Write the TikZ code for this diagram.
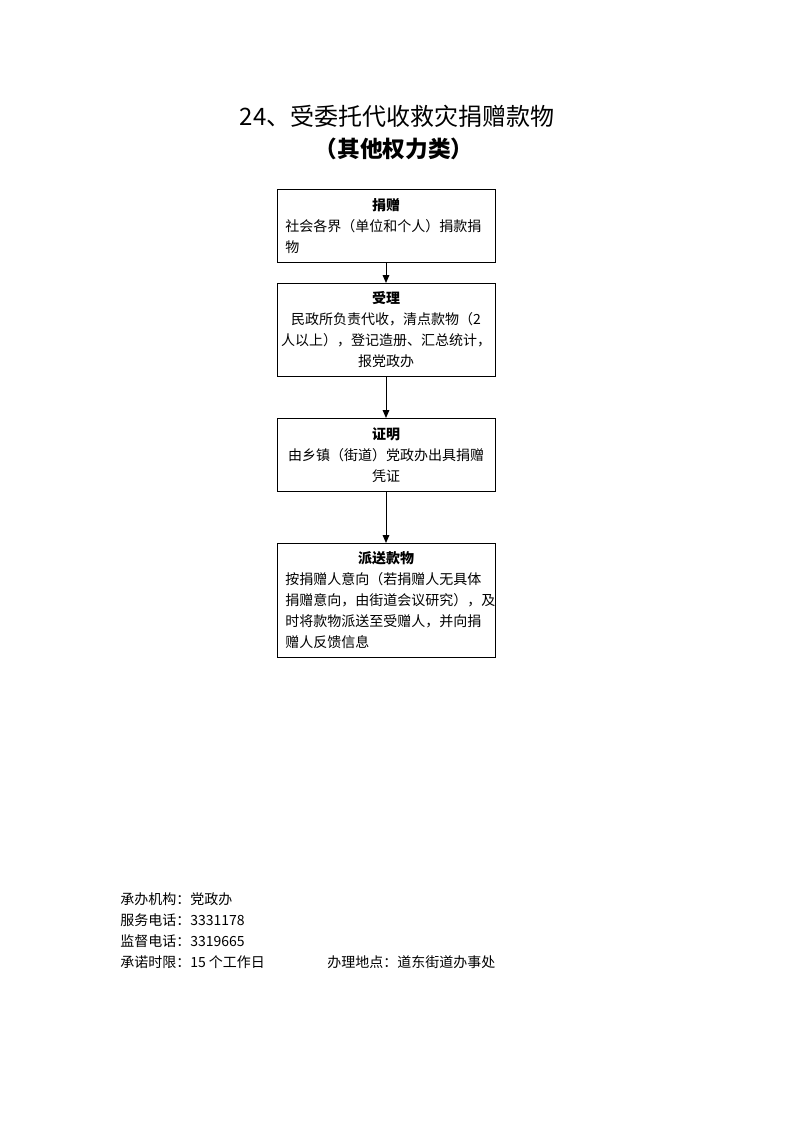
\documentclass[tikz,border=0pt]{standalone}
\usepackage{fontspec}
\setmainfont{Noto Sans CJK SC}
\usetikzlibrary{arrows.meta}
\tikzset{
    flowbox/.style={draw, line width=0.75pt, minimum width=163.5pt, text width=151pt, inner xsep=6.25pt, inner ysep=2pt, font=\fontsize{10.5}{15.75}\selectfont, anchor=north},
    flowarrow/.style={line width=0.75pt, -{Triangle[length=6pt,width=5pt]}},
    footnote/.style={anchor=west, inner sep=0pt, font=\fontsize{10.5}{15.75}\selectfont}
}
\begin{document}
\begin{tikzpicture}[x=0.75pt, y=-0.75pt]
        \useasboundingbox (0, 0) rectangle (793, 1122);
        \node[font=\fontsize{18}{22}\selectfont] (title) at (397, 116) {24、受委托代收救灾捐赠款物};
        \node[font=\fontsize{17}{20}\selectfont\bfseries] (subtitle) at (394, 149) {（其他权力类）};

        \node[flowbox, minimum height=54.75pt, align=left] (juanzeng) at (386, 189)
            {\makebox[151pt]{\textbf{捐赠}}\\社会各界（单位和个人）捐款捐\\物};
        \node[flowbox, minimum height=69.75pt, align=center] (shouli) at (386, 283)
            {\textbf{受理}\\民政所负责代收，清点款物（2\\\makebox[151pt]{人以上），登记造册、汇总统计，}\\报党政办};
        \node[flowbox, minimum height=54.75pt, align=center] (zhengming) at (386, 418)
            {\textbf{证明}\\由乡镇（街道）党政办出具捐赠\\凭证};
        \node[flowbox, minimum height=85.5pt, align=left] (paisong) at (386, 543)
            {\makebox[151pt]{\textbf{派送款物}}\\按捐赠人意向（若捐赠人无具体\\\makebox[151pt][l]{捐赠意向，由街道会议研究），及}\\时将款物派送至受赠人，并向捐\\赠人反馈信息};

        \draw[flowarrow] (juanzeng) -- (shouli);
        \draw[flowarrow] (shouli) -- (zhengming);
        \draw[flowarrow] (zhengming) -- (paisong);

        \node[footnote] (jigou) at (120, 899) {承办机构：党政办};
        \node[footnote] (fuwu) at (120, 920) {服务电话：3331178};
        \node[footnote] (jiandu) at (120, 941) {监督电话：3319665};
        \node[footnote] (shixian) at (120, 962) {承诺时限：15 个工作日};
        \node[footnote] (didian) at (327, 962) {办理地点：道东街道办事处};
    \end{tikzpicture}
\end{document}
